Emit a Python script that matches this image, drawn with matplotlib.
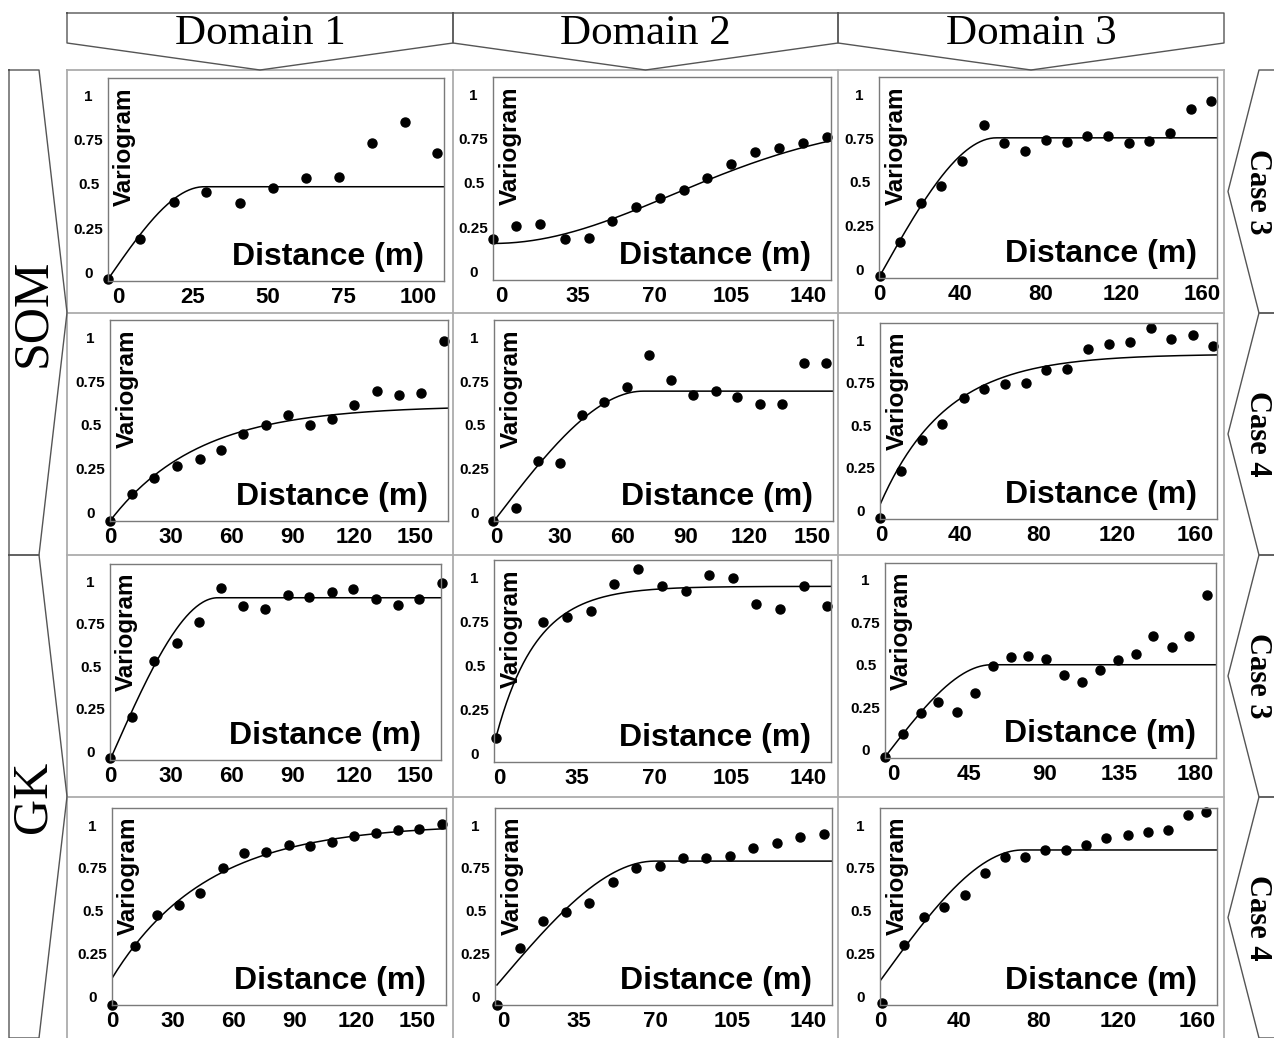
import numpy as np
import matplotlib.pyplot as plt

W, H = 1274, 1038

domains = ["Domain 1", "Domain 2", "Domain 3"]
methods = ["SOM", "GK"]
cases = ["Case 3", "Case 4", "Case 3", "Case 4"]
yticks = [0, 0.25, 0.5, 0.75, 1]
ytick_labels = ["0", "0.25", "0.5", "0.75", "1"]

# ---- SOM, case 3 ----
som3_d1_lag = [-3.3, 7.2, 18.6, 29.4, 40.6, 51.7, 62.6, 73.7, 84.6, 95.6, 106.3]
som3_d1_gam = [-0.04, 0.19, 0.395, 0.452, 0.391, 0.478, 0.531, 0.541, 0.730, 0.853, 0.675]
som3_d2_lag = [-3.8, 6.8, 17.8, 28.9, 39.9, 50.7, 61.3, 72.3, 83.3, 93.9, 105.0, 115.6, 126.6, 137.7, 148.4]
som3_d2_gam = [0.18, 0.255, 0.265, 0.18, 0.189, 0.286, 0.361, 0.412, 0.459, 0.529, 0.606, 0.676, 0.695, 0.727, 0.761]
som3_d3_lag = [0, 10.3, 20.7, 30.7, 41.0, 51.7, 61.7, 72.1, 82.4, 92.8, 103.1, 113.5, 123.8, 133.8, 144.3, 154.6, 164.7]
som3_d3_gam = [-0.04, 0.155, 0.381, 0.475, 0.621, 0.828, 0.722, 0.676, 0.739, 0.727, 0.762, 0.762, 0.720, 0.733, 0.779, 0.916, 0.965]

# ---- SOM, case 4 ----
som4_d1_lag = [0, 11.0, 21.8, 32.8, 44.1, 54.6, 65.6, 76.6, 87.7, 98.7, 109.3, 120.2, 131.5, 142.3, 153.3, 164.3]
som4_d1_gam = [-0.05, 0.107, 0.198, 0.267, 0.303, 0.355, 0.445, 0.498, 0.559, 0.502, 0.536, 0.613, 0.693, 0.670, 0.680, 0.980]
som4_d2_lag = [-1.6, 9.2, 19.8, 30.5, 40.8, 51.3, 61.9, 72.5, 83.0, 93.3, 104.3, 114.6, 125.1, 135.7, 146.3, 156.8]
som4_d2_gam = [-0.05, 0.026, 0.292, 0.279, 0.559, 0.632, 0.714, 0.899, 0.756, 0.670, 0.695, 0.661, 0.622, 0.622, 0.852, 0.852]
som4_d3_lag = [-0.5, 10.2, 21.0, 31.2, 42.1, 52.6, 63.2, 73.7, 84.2, 94.9, 105.6, 116.1, 126.7, 137.2, 147.7, 158.6, 168.9]
som4_d3_gam = [-0.046, 0.232, 0.415, 0.507, 0.660, 0.713, 0.744, 0.748, 0.822, 0.830, 0.947, 0.979, 0.987, 1.071, 1.008, 1.032, 0.963]

# ---- GK, case 3 ----
gk3_d1_lag = [0, 11.0, 21.8, 32.8, 43.8, 54.4, 65.2, 76.2, 87.4, 98.0, 109.0, 119.7, 130.7, 141.5, 152.1, 163.3]
gk3_d1_gam = [-0.04, 0.200, 0.531, 0.635, 0.760, 0.957, 0.854, 0.834, 0.918, 0.908, 0.934, 0.953, 0.895, 0.859, 0.893, 0.987]
gk3_d2_lag = [-1.5, 19.7, 30.3, 41.2, 51.7, 62.5, 73.4, 84.3, 94.9, 105.6, 116.2, 127.1, 138.0, 148.6]
gk3_d2_gam = [0.089, 0.748, 0.773, 0.809, 0.961, 1.049, 0.952, 0.923, 1.014, 0.995, 0.847, 0.819, 0.954, 0.838]
gk3_d3_lag = [-5.0, 6.0, 16.5, 26.8, 37.8, 48.7, 59.2, 70.0, 80.5, 91.1, 101.6, 112.3, 123.3, 133.8, 144.5, 155.1, 166.0, 176.5, 187.3]
gk3_d3_gam = [-0.044, 0.092, 0.215, 0.278, 0.219, 0.333, 0.491, 0.546, 0.550, 0.536, 0.441, 0.398, 0.467, 0.530, 0.565, 0.671, 0.603, 0.671, 0.913]

# ---- GK, case 4 ----
gk4_d1_lag = [0, 11.1, 22.1, 32.8, 43.4, 54.4, 65.1, 75.7, 86.9, 97.5, 108.2, 119.2, 130.0, 140.7, 151.3, 162.3]
gk4_d1_gam = [-0.05, 0.297, 0.476, 0.535, 0.603, 0.749, 0.837, 0.841, 0.886, 0.880, 0.901, 0.934, 0.954, 0.969, 0.979, 1.006]
gk4_d2_lag = [-2.8, 7.8, 18.3, 28.9, 39.4, 50.5, 61.0, 72.0, 82.6, 93.1, 104.1, 114.7, 125.7, 136.2, 147.2]
gk4_d2_gam = [-0.05, 0.283, 0.440, 0.493, 0.545, 0.668, 0.750, 0.761, 0.808, 0.808, 0.820, 0.867, 0.896, 0.931, 0.948]
gk4_d3_lag = [1.0, 12.1, 22.2, 32.3, 43.0, 53.0, 63.1, 73.2, 83.3, 93.9, 104.0, 114.1, 125.3, 135.4, 145.5, 155.6, 164.6]
gk4_d3_gam = [-0.038, 0.300, 0.464, 0.522, 0.592, 0.721, 0.814, 0.814, 0.855, 0.855, 0.884, 0.925, 0.942, 0.960, 0.972, 1.059, 1.077]

# fitted models: (model, start lag, nugget, partial sill, range)
fits = [
    [("sph", -3.3, -0.04, 0.524, 32), ("gau", -3.8, 0.157, 0.70, 200), ("sph", 0, -0.04, 0.792, 58)],
    [("exp", 0, -0.05, 0.66, 130), ("sph", -1.1, -0.05, 0.743, 71), ("exp", -0.5, 0.034, 0.884, 100.6)],
    [("sph", 0, -0.05, 0.952, 53), ("exp", -1.5, 0.10, 0.85, 55), ("sph", -5, -0.044, 0.544, 63.6)],
    [("exp", 0, 0.106, 0.90, 140), ("sph", -2.8, 0.067, 0.723, 72.5), ("sph", 0, 0.09, 0.765, 72)],
]

lags = [[som3_d1_lag, som3_d2_lag, som3_d3_lag],
        [som4_d1_lag, som4_d2_lag, som4_d3_lag],
        [gk3_d1_lag, gk3_d2_lag, gk3_d3_lag],
        [gk4_d1_lag, gk4_d2_lag, gk4_d3_lag]]
gams = [[som3_d1_gam, som3_d2_gam, som3_d3_gam],
        [som4_d1_gam, som4_d2_gam, som4_d3_gam],
        [gk3_d1_gam, gk3_d2_gam, gk3_d3_gam],
        [gk4_d1_gam, gk4_d2_gam, gk4_d3_gam]]

xticks = [
    [[0, 25, 50, 75, 100], [0, 35, 70, 105, 140], [0, 40, 80, 120, 160]],
    [[0, 30, 60, 90, 120, 150], [0, 30, 60, 90, 120, 150], [0, 40, 80, 120, 160]],
    [[0, 30, 60, 90, 120, 150], [0, 35, 70, 105, 140], [0, 45, 90, 135, 180]],
    [[0, 30, 60, 90, 120, 150], [0, 35, 70, 105, 140], [0, 40, 80, 120, 160]],
]
xlims = [
    [(-3.3, 108.6), (-3.8, 150.4), (-0.3, 167.5)],
    [(0, 166.4), (-1.1, 160), (-0.5, 171)],
    [(0, 162.8), (-2.6, 150.2), (-5, 192.5)],
    [(0, 164.4), (-3.7, 151), (0, 170)],
]

# plot boxes in pixels: left, top, right, bottom
boxes = [
    [(108, 78, 444, 281), (493, 77, 831, 280), (879, 77, 1217, 278)],
    [(110, 320, 448, 521), (494, 320, 833, 521), (880, 323, 1217, 519)],
    [(110, 564, 441, 760), (494, 560, 831, 762), (885, 563, 1216, 758)],
    [(112, 808, 446, 1005), (495, 808, 832, 1005), (880, 808, 1217, 1005)],
]


def model_curve(kind, x0, c0, c, a, x1):
    h = np.linspace(0, x1 - x0, 300)
    if kind == "sph":
        r = np.minimum(h / a, 1.0)
        g = c0 + c * (1.5 * r - 0.5 * r ** 3)
    elif kind == "exp":
        g = c0 + c * (1 - np.exp(-3 * h / a))
    else:
        g = c0 + c * (1 - np.exp(-3 * h ** 2 / a ** 2))
    return x0 + h, g


fig = plt.figure(figsize=(W / 100, H / 100), dpi=100)

# frame, headers and side chevrons
bg = fig.add_axes([0, 0, 1, 1])
bg.set_xlim(0, W)
bg.set_ylim(H, 0)
bg.axis("off")
grid_c = "#acacac"
for y in [70, 313, 555, 797]:
    bg.plot([67, 1224], [y, y], color=grid_c, lw=1.3)
for x in [67, 453, 838, 1224]:
    bg.plot([x, x], [70, H], color=grid_c, lw=1.3)

edge = "#555555"
cols = [(67, 453), (453, 838), (838, 1224)]
for (L, R), name in zip(cols, domains):
    bg.plot([L, R, R, (L + R) / 2, L, L], [13, 13, 43, 70, 43, 13], color=edge, lw=1)
    bg.text((L + R) / 2, 34, name, ha="center", va="center", fontsize=31,
            family="Liberation Serif")

for (T, B), name in zip([(70, 555), (555, 1038)], methods):
    M = (T + B) / 2
    bg.plot([9, 39, 67, 39, 9, 9], [T, T, M, B, B, T], color=edge, lw=1)
    bg.text(33, M, name, ha="center", va="center", fontsize=36, rotation=90,
            family="Liberation Serif")

rows = [(70, 313), (313, 555), (555, 797), (797, 1038)]
for (T, B), name in zip(rows, cases):
    M = (T + B) / 2
    bg.plot([1274, 1259, 1228, 1259, 1274], [T, T, M, B, B], color=edge, lw=1)
    bg.text(1257, M, name, ha="center", va="center", fontsize=22, rotation=-90,
            family="Liberation Serif", weight="bold")

# the twelve variogram panels
for r in range(4):
    for c in range(3):
        l, t, rr, b = boxes[r][c]
        ax = fig.add_axes([l / W, 1 - b / H, (rr - l) / W, (b - t) / H])
        ax.set_xlim(*xlims[r][c])
        ax.set_ylim(-0.05, 1.1)
        kind, x0, c0, cc, a = fits[r][c]
        xs, ys = model_curve(kind, x0, c0, cc, a, xlims[r][c][1])
        ax.plot(xs, ys, color="black", lw=1.1)
        ax.plot(lags[r][c], gams[r][c], "o", color="black", ms=6.5, clip_on=False)
        for s in ax.spines.values():
            s.set_color("#7a7a7a")
            s.set_linewidth(1)
        ax.set_xticks(xticks[r][c])
        ax.set_xticklabels([str(v) for v in xticks[r][c]], fontsize=16,
                           weight="bold", family="Liberation Sans")
        ax.set_yticks(yticks)
        ax.set_yticklabels(ytick_labels, fontsize=11, weight="bold",
                           family="Liberation Sans")
        for lbl in ax.get_yticklabels():
            lbl.set_horizontalalignment("center")
        ax.tick_params(axis="x", length=0, pad=4)
        ax.tick_params(axis="y", length=0, pad=14)
        ax.text(0.05, 0.955, "Variogram", transform=ax.transAxes, rotation=90,
                ha="center", va="top", fontsize=17.5, weight="bold",
                family="Liberation Sans")
        ax.text(0.94, 0.08, "Distance (m)", transform=ax.transAxes,
                ha="right", va="baseline", fontsize=23, weight="bold",
                family="Liberation Sans")

fig.savefig("out.png", dpi=100, facecolor="white")
